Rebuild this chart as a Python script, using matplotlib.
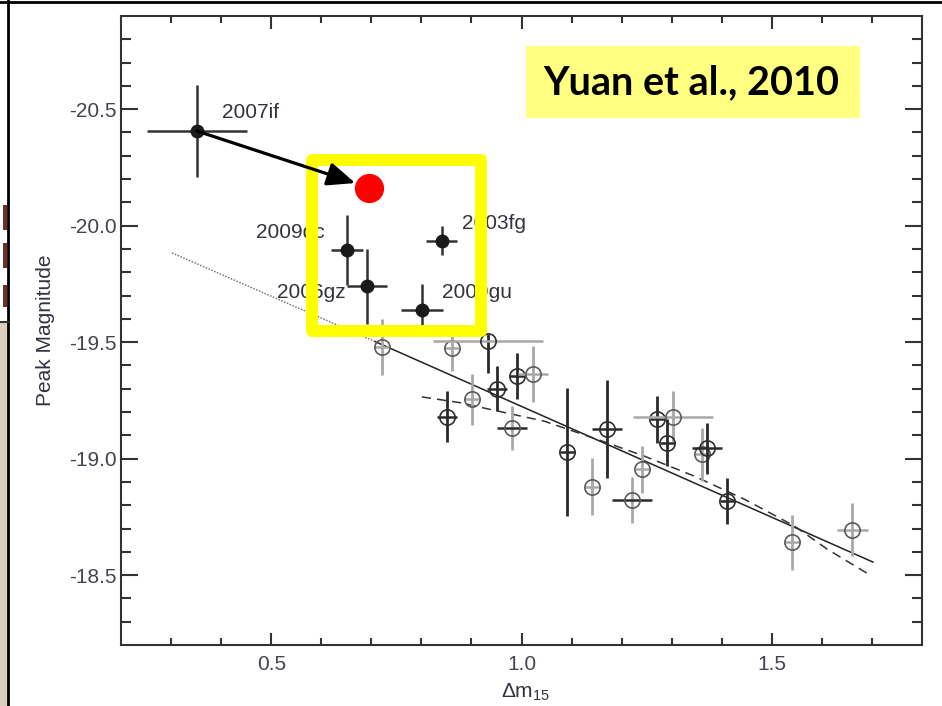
import numpy as np
import matplotlib
matplotlib.use("Agg")
import matplotlib.pyplot as plt
from matplotlib.patches import Rectangle
from matplotlib.lines import Line2D

plt.rcParams['font.family'] = ['Liberation Sans', 'DejaVu Sans']
plt.rcParams['mathtext.fontset'] = 'custom'
plt.rcParams['mathtext.rm'] = 'Liberation Sans'
plt.rcParams['mathtext.it'] = 'Liberation Sans'

# filled points (super-Chandra candidates)
sn_names = ['2007if', '2009dc', '2006gz', '2003fg', '2009gu']
sn_x = [0.352, 0.651, 0.692, 0.841, 0.801]
sn_y = [-20.406, -19.897, -19.739, -19.936, -19.640]
sn_xerr = [0.10, 0.032, 0.04, 0.031, 0.042]
sn_yerr = [0.197, 0.15, 0.16, 0.064, 0.11]
# label anchor (left, centre) for each name
lab_x = [0.402, 0.470, 0.512, 0.881, 0.841]
lab_y = [-20.487, -19.969, -19.714, -20.011, -19.712]

# open points (normal Ia sample)
op_x = [0.721, 0.861, 0.933, 0.951, 0.991, 1.023, 0.901, 0.851, 0.981, 1.091, 1.141,
        1.171, 1.221, 1.241, 1.271, 1.303, 1.291, 1.361, 1.371, 1.411, 1.541, 1.661]
op_y = [-19.479, -19.475, -19.503, -19.301, -19.354, -19.364, -19.254, -19.180, -19.132, -19.028, -18.880,
        -19.128, -18.822, -18.954, -19.168, -19.180, -19.068, -19.018, -19.044, -18.818, -18.640, -18.694]
op_xerr = [0.015, 0.015, 0.11, 0.02, 0.015, 0.03, 0.015, 0.02, 0.03, 0.015, 0.015,
           0.03, 0.04, 0.015, 0.015, 0.08, 0.015, 0.015, 0.03, 0.015, 0.015, 0.031]
op_ylo = [0.12, 0.10, 0.03, 0.095, 0.10, 0.12, 0.11, 0.11, 0.094, 0.276, 0.124,
          0.21, 0.10, 0.10, 0.10, 0.11, 0.10, 0.115, 0.11, 0.10, 0.117, 0.114]
op_yhi = [0.12, 0.10, 0.134, 0.095, 0.10, 0.12, 0.11, 0.11, 0.094, 0.276, 0.124,
          0.21, 0.10, 0.10, 0.10, 0.11, 0.10, 0.115, 0.11, 0.10, 0.117, 0.114]
op_xcol = ['g', 'g', 'g', 'k', 'k', 'g', 'g', 'k', 'k', 'k', 'g',
           'k', 'k', 'g', 'k', 'g', 'k', 'g', 'k', 'k', 'g', 'g']
op_ycol = ['g', 'g', 'k', 'k', 'k', 'g', 'g', 'k', 'g', 'k', 'g',
           'k', 'g', 'g', 'k', 'g', 'k', 'g', 'k', 'k', 'g', 'g']

# linear fit (solid) and its extrapolation (dotted)
fit_x = [0.708, 1.702]
fit_y = [-19.502, -18.556]
ext_x = [0.302, 0.708]
ext_y = [-19.883, -19.502]
# curved relation (dashed)
dash_x = [0.801, 0.878, 0.938, 1.045, 1.151, 1.245, 1.345, 1.445, 1.545, 1.611, 1.691]
dash_y = [-19.265, -19.240, -19.211, -19.161, -19.083, -19.011, -18.925, -18.826, -18.711, -18.611, -18.507]

# highlight: corrected 2007if
new_x, new_y = 0.696, -20.162
arrow_end = (0.668, -20.183)
box_x = [0.582, 0.920]
box_y = [-20.284, -19.549]

cols = {'g': '#a8a8a8', 'k': '#2a2a2a'}
circ = {'g': '#5a5a5a', 'k': '#2e2e2e'}

fig = plt.figure(figsize=(9.42, 7.06), dpi=100)
ax = fig.add_axes([121/942, 1-645/706, 801/942, 629/706])

# fit lines
ax.plot(ext_x, ext_y, linestyle=(0, (1, 1)), color='#777777', lw=1.1)
ax.plot(fit_x, fit_y, '-', color='#222222', lw=1.1)
ax.plot(dash_x, dash_y, linestyle=(0, (6, 4)), color='#333333', lw=1.1)

# open points
for i in range(len(op_x)):
    ax.errorbar(op_x[i], op_y[i], yerr=[[op_ylo[i]], [op_yhi[i]]], fmt='none',
                ecolor=cols[op_ycol[i]], elinewidth=2.0, capsize=0)
    ax.errorbar(op_x[i], op_y[i], xerr=op_xerr[i], fmt='none',
                ecolor=cols[op_xcol[i]], elinewidth=1.8, capsize=0)
    ax.plot(op_x[i], op_y[i], 'o', ms=11, mfc='none', mec=circ[op_ycol[i]], mew=1.2)

# filled points
ax.errorbar(sn_x, sn_y, xerr=sn_xerr, yerr=sn_yerr, fmt='o', ms=9,
            color='#1a1a1a', ecolor='#333333', elinewidth=1.8, capsize=0)
for n, lx, ly in zip(sn_names, lab_x, lab_y):
    ax.text(lx, ly, n, ha='left', va='center', fontsize=15, color='#333340')

# yellow highlight box, red dot, arrow
ax.add_patch(Rectangle((box_x[0], box_y[0]), box_x[1]-box_x[0], box_y[1]-box_y[0],
                       fill=False, edgecolor='#ffff00', lw=8.6, joinstyle='round', zorder=10))
ax.plot(new_x, new_y, 'o', ms=20, color='#ff0000', mec='#ff0000', zorder=11)
ax.annotate('', xy=arrow_end, xytext=(sn_x[0], sn_y[0]),
            arrowprops=dict(arrowstyle='-|>,head_length=1.0,head_width=0.42',
                            color='black', lw=2.3, mutation_scale=17, shrinkA=0, shrinkB=0),
            zorder=12)

ax.set_xlim(0.2, 1.8)
ax.set_ylim(-18.2, -20.9)
ax.set_xticks([0.5, 1.0, 1.5])
ax.set_xticks(np.arange(0.3, 1.75, 0.1), minor=True)
ax.set_yticks([-20.5, -20.0, -19.5, -19.0, -18.5])
ax.set_yticks(np.arange(-20.8, -18.25, 0.1), minor=True)
ax.set_xticklabels(['0.5', '1.0', '1.5'])
ax.set_yticklabels(['-20.5', '-20.0', '-19.5', '-19.0', '-18.5'])
ax.tick_params(axis='both', which='both', direction='in', top=True, right=True,
               colors='#333333', labelcolor='#444450', labelsize=15, width=1.5)
ax.tick_params(axis='x', which='major', length=9, pad=7)
ax.tick_params(axis='x', which='minor', length=4.7)
ax.tick_params(axis='y', which='major', length=12, pad=3)
ax.tick_params(axis='y', which='minor', length=7)
for s in ax.spines.values():
    s.set_color('#333333')
    s.set_linewidth(1.5)

ax.set_ylabel('Peak Magnitude', fontsize=15, color='#333340')
ax.yaxis.set_label_coords(-0.083, 0.5)
ax.set_xlabel(r'$\Delta\mathrm{m}_{15}$', fontsize=15, color='#333340')
ax.xaxis.set_label_coords(0.505, -0.058)

# citation label
fig.patches.append(Rectangle((526/942, 1-118/706), 334/942, 72/706,
                             transform=fig.transFigure, facecolor='#ffff80', edgecolor='none', zorder=5))
fig.text(691/942, 1-83/706, 'Yuan et al., 2010', ha='center', va='center',
         fontsize=28.5, fontweight='bold', family=['Lato', 'DejaVu Sans'], color='black', zorder=6)

# slide edges visible on the left
fig.patches.append(Rectangle((0, 0), 8/942, 1-322/706, transform=fig.transFigure,
                             facecolor='#d8cfbd', edgecolor='none'))
for y0, y1 in [(205, 230), (243, 268), (285, 307)]:
    fig.patches.append(Rectangle((3/942, 1-y1/706), 4/942, (y1-y0)/706, transform=fig.transFigure,
                                 facecolor='#6e3028', edgecolor='none'))
fig.lines.append(Line2D([8/942, 8/942], [0, 1], transform=fig.transFigure, color='black', lw=2))
fig.lines.append(Line2D([0, 1], [1-2/706, 1-2/706], transform=fig.transFigure, color='black', lw=2))
fig.lines.append(Line2D([0, 8/942], [1-322/706, 1-322/706], transform=fig.transFigure, color='#333333', lw=1.5))

fig.savefig('out.png', dpi=100)
